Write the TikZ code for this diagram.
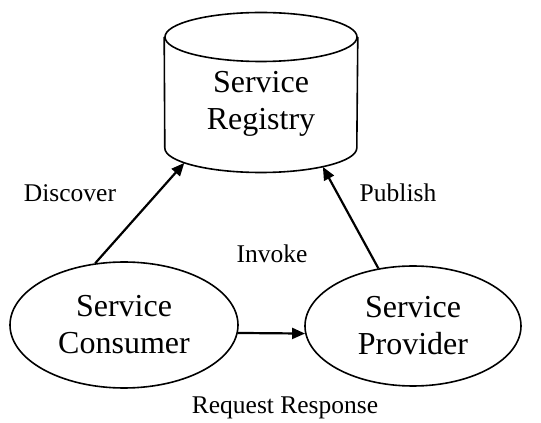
\documentclass[tikz,border=0pt]{standalone}
\usepackage{fontspec}
\setmainfont{Liberation Serif}
\usetikzlibrary{arrows.meta,positioning,shapes.geometric}
\tikzset{
  svc/.style={ellipse, draw, line width=1.6pt, inner sep=0pt, align=center,
    font=\fontsize{32}{37}\selectfont},
  lidcap/.style={ellipse, minimum width=192pt, minimum height=49pt, inner sep=0pt},
  lab/.style={font=\fontsize{25.5}{28}\selectfont, inner sep=0pt},
  arr/.style={-{Triangle[length=13pt,width=11pt]}, line width=2.2pt},
}
\begin{document}
\begin{tikzpicture}[x=1pt,y=1pt]
\useasboundingbox (0,0) rectangle (541,423);
% registry drum: top lid, bottom rim, sides
\node[lidcap, draw, line width=1.6pt] (regtop) at (261,386) {};
\node[lidcap] (regbase) at (261,275) {};
\draw[line width=1.6pt] (regtop.west) -- (regbase.west)
  arc[start angle=180, end angle=360, x radius=96pt, y radius=24.5pt] -- (regtop.east);
\node[align=center, font=\fontsize{32}{37}\selectfont, inner sep=0pt] (registry) at (261,319.5) {Service\\Registry};
% the two parties
\node[svc, minimum width=228pt, minimum height=126pt] (consumer) at (124,98) {Service\\Consumer};
\node[svc, minimum width=216pt, minimum height=120pt] (provider) at (413,97) {Service\\Provider};
% connectors
\draw[arr] (consumer.115) -- (regbase.191);
\draw[arr] (provider.121) -- (regbase.-17);
\draw[arr] (consumer.-4.5) -- (provider.184.3);
% labels
\node[lab] (discover) at (70,230) {Discover};
\node[lab] (publish) at (398,230) {Publish};
\node[lab] (invoke) at (272,169) {Invoke};
\node[lab] (reqresp) at (285,15) {Request Response};
\end{tikzpicture}
\end{document}
